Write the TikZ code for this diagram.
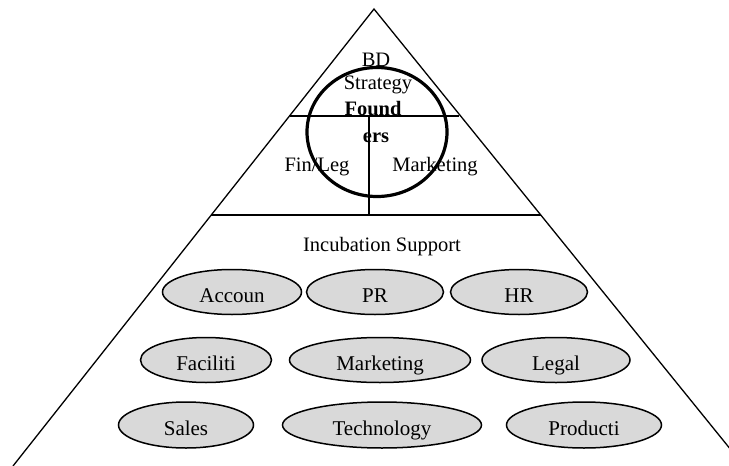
\documentclass[tikz,border=0pt]{standalone}
\usepackage{fontspec}
\setmainfont{Liberation Serif}
\usetikzlibrary{shapes.geometric}

\tikzset{
	unit/.style={ellipse, draw, line width=1.5pt, fill=black!15, inner sep=0pt, text height=20pt, text depth=0pt, minimum height=45pt, font=\fontsize{21}{21}\selectfont},
	lbl/.style={inner sep=0pt, anchor=base, font=\fontsize{20.5}{21}\selectfont},
}

\begin{document}
\begin{tikzpicture}[x=1pt, y=-1pt]
		%%%%% START %%%%%
		\useasboundingbox (0, 0) rectangle (729, 466);
		\clip (0, 0) rectangle (729, 466);
		
		\coordinate (apex) at (374, 9);
		\coordinate (baseL) at (13, 466);
		\coordinate (baseR) at (744, 466);
		\draw[line width=1.3pt] (baseL) -- (apex) -- (baseR);
		
		\draw[line width=1.5pt] (290, 116) -- (459, 116);
		\draw[line width=1.5pt] (211, 215) -- (541, 215);
		\draw[line width=1.2pt] (369, 116) -- (369, 215);
		
		\node[lbl] (bd) at (376, 66) {BD};
		\node[lbl] (strat) at (378, 89) {Strategy};
		\node[lbl, font=\fontsize{20.5}{21}\selectfont\bfseries] (found) at (373, 115) {Found};
		\node[lbl, font=\fontsize{20.5}{21}\selectfont\bfseries] (ers) at (376, 142) {ers};
		\node[lbl] (finleg) at (317, 171) {Fin/Leg};
		\node[lbl] (mktg) at (435, 171) {Marketing};
		
		\draw[line width=3.2pt] (377, 132) ellipse [x radius=70pt, y radius=64.5pt];
		
		\node[lbl] (incub) at (382, 251) {Incubation Support};
		
		\node[unit, minimum width=139pt] (acc) at (232, 292) {Accoun};
		\node[unit, minimum width=137pt] (pr) at (375, 292) {PR};
		\node[unit, minimum width=137pt] (hr) at (519, 292) {HR};
		
		\node[unit, minimum width=131pt] (fac) at (206, 360) {Faciliti};
		\node[unit, minimum width=181pt] (mkt) at (380, 360) {Marketing};
		\node[unit, minimum width=148pt] (legal) at (556, 360) {Legal};
		
		\node[unit, minimum width=135pt, minimum height=46pt] (sales) at (186, 425) {Sales};
		\node[unit, minimum width=199pt, minimum height=46pt] (tech) at (382, 425) {Technology};
		\node[unit, minimum width=155pt, minimum height=46pt] (prod) at (584, 425) {Producti};
		
		%%%%% END %%%%%
	\end{tikzpicture}
\end{document}
